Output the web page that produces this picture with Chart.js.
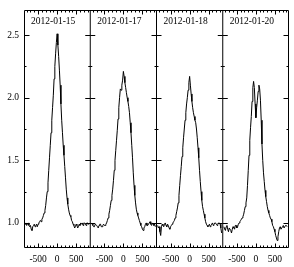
<!DOCTYPE html>
<html>
<head>
<meta charset="utf-8">
<script src="https://cdn.jsdelivr.net/npm/chart.js@4.4.1/dist/chart.umd.min.js"></script>
<style>
html,body{margin:0;padding:0;background:#fff;}
canvas{display:block;}
</style>
</head>
<body>
<canvas id="c" width="294" height="267" style="width:294px;height:267px"></canvas>
<script>
// ---- data ----
const dates = ['2012-01-15', '2012-01-17', '2012-01-18', '2012-01-20'];
const velocity = [
  -840,-820,-800,-780,-760,-740,-720,-700,-680,-660,
  -640,-620,-600,-580,-560,-540,-520,-500,-480,-460,
  -440,-420,-400,-380,-360,-340,-320,-300,-280,-260,
  -240,-220,-200,-180,-160,-140,-120,-100,-80,-60,
  -40,-20,0,20,40,60,80,100,120,140,
  160,180,200,220,240,260,280,300,320,340,
  360,380,400,420,440,460,480,500,520,540,
  560,580,600,620,640,660,680,700,720,740,
  760,780,800,820,840];
const flux0115 = [
  0.99,1.00,0.98,0.99,1.00,0.98,0.97,0.98,0.95,0.94,
  0.97,0.98,0.99,0.97,0.98,0.99,0.97,0.99,1.00,1.01,
  1.02,1.01,1.03,1.04,1.06,1.08,1.10,1.14,1.20,1.25,
  1.32,1.42,1.52,1.62,1.72,1.82,1.92,2.02,2.15,2.25,
  2.35,2.44,2.51,2.42,2.33,2.22,2.10,1.95,1.82,1.72,
  1.62,1.54,1.45,1.36,1.27,1.20,1.15,1.11,1.08,1.06,
  1.05,1.02,1.01,0.99,0.98,0.96,0.97,0.99,0.98,0.96,
  0.97,0.99,0.98,1.00,0.99,1.00,0.98,1.00,1.00,0.99,
  0.98,1.00,1.00,0.99,0.99];
const flux0117 = [
  1.00,0.99,0.98,0.97,0.97,0.99,0.99,0.98,0.97,0.96,
  0.98,0.99,0.99,0.97,0.97,0.98,0.99,0.98,0.98,0.99,
  1.00,1.02,1.04,1.07,1.10,1.14,1.18,1.22,1.27,1.34,
  1.42,1.50,1.58,1.66,1.74,1.83,1.92,2.00,2.07,2.06,
  2.10,2.14,2.21,2.17,2.12,2.08,2.04,2.00,1.97,1.93,
  1.88,1.80,1.72,1.62,1.52,1.40,1.30,1.22,1.16,1.11,
  1.08,1.06,1.04,1.02,1.00,0.98,0.97,0.95,0.94,0.96,
  0.97,0.99,1.00,0.98,0.98,0.99,1.00,1.01,0.99,0.98,
  1.00,0.99,0.98,0.99,0.97];
const flux0118 = [
  0.98,0.96,0.97,0.93,0.90,0.97,0.99,0.98,0.97,0.99,
  1.00,0.98,0.97,0.99,0.98,0.96,0.95,0.97,0.98,0.99,
  1.00,1.01,1.02,1.04,1.06,1.09,1.12,1.16,1.22,1.30,
  1.38,1.45,1.53,1.60,1.68,1.75,1.82,1.88,1.95,2.00,
  2.06,2.12,2.17,2.10,2.03,1.97,1.92,1.88,1.85,1.82,
  1.80,1.75,1.68,1.60,1.52,1.42,1.33,1.25,1.18,1.13,
  1.10,1.07,1.04,1.01,0.99,0.98,0.97,0.98,0.99,0.97,
  0.98,0.99,1.00,0.98,0.99,1.00,1.00,0.99,0.98,0.99,
  1.00,1.00,0.99,0.96,0.92];
const flux0120 = [
  0.97,0.95,0.94,0.97,0.98,0.95,0.93,0.96,0.96,0.94,
  0.92,0.95,0.97,0.96,0.95,0.98,0.98,0.96,0.97,0.99,
  1.00,1.01,1.02,1.03,1.04,1.05,1.07,1.10,1.13,1.16,
  1.20,1.30,1.42,1.54,1.66,1.76,1.85,1.97,2.08,2.13,
  2.08,1.95,1.84,1.92,1.98,2.05,2.10,2.07,1.98,1.82,
  1.63,1.50,1.40,1.33,1.26,1.21,1.17,1.13,1.10,1.08,
  1.06,1.04,1.03,1.01,0.98,0.97,0.95,0.93,0.90,0.88,
  0.86,0.89,0.93,0.96,0.97,0.95,0.95,0.97,0.98,0.96,
  0.96,0.98,0.98,0.97,0.97];
const series = [flux0115, flux0117, flux0118, flux0120];

const yTickValues = [1.0, 1.5, 2.0, 2.5];
const yTickLabels = ['1.0', '1.5', '2.0', '2.5'];
const yMinorValues = [1.25, 1.75, 2.25];
const xTickValues = [-500, 0, 500];
const xTickLabels = ['-500', '0', '500'];
const xMinorValues = [-800,-700,-600,-400,-300,-200,-100,100,200,300,400,600,700,800];

// ---- layout constants ----
const HALF = 870;            // half-width of one panel in km/s
const PANEL = 2 * HALF;      // panel offset on the shared axis
const FONT = '9.5px "Liberation Serif", "DejaVu Serif", serif';

const datasets = series.map((vals, k) => ({
  label: dates[k],
  data: velocity.map((v, i) => ({ x: v + k * PANEL, y: vals[i] })),
  borderColor: '#000',
  borderWidth: 1,
  pointRadius: 0,
  tension: 0,
  fill: false
}));

const panelPlugin = {
  id: 'panels',
  afterDatasetsDraw(chart) {
    const { ctx, chartArea: a, scales: { x, y } } = chart;
    ctx.save();
    ctx.strokeStyle = '#000';
    ctx.lineWidth = 1;
    const L = a.left + 0.5, R = a.right - 0.5, T = a.top + 0.5, B = a.bottom - 0.5;
    ctx.beginPath();
    ctx.moveTo(L, T); ctx.lineTo(R, T); ctx.lineTo(R, B); ctx.lineTo(L, B); ctx.closePath();
    ctx.stroke();
    const verticals = [L];
    for (let k = 1; k < dates.length; k++) {
      const px = x.getPixelForValue(-HALF + k * PANEL);
      verticals.push(px);
      ctx.beginPath(); ctx.moveTo(px, a.top); ctx.lineTo(px, a.bottom); ctx.stroke();
    }
    verticals.push(R);
    const yt = (vals, len) => {
      vals.forEach(v => {
        const py = Math.round(y.getPixelForValue(v)) + 0.5;
        verticals.forEach((vx, i) => {
          ctx.beginPath();
          if (i > 0) { ctx.moveTo(vx, py); ctx.lineTo(vx - len, py); }
          if (i < verticals.length - 1) { ctx.moveTo(vx, py); ctx.lineTo(vx + len, py); }
          ctx.stroke();
        });
      });
    };
    yt(yTickValues, 5);
    yt(yMinorValues, 2);
    const xt = (vals, len) => {
      for (let k = 0; k < dates.length; k++) {
        vals.forEach(v => {
          const px = Math.round(x.getPixelForValue(v + k * PANEL)) + 0.5;
          ctx.beginPath();
          ctx.moveTo(px, B); ctx.lineTo(px, B - len);
          ctx.moveTo(px, T); ctx.lineTo(px, T + len);
          ctx.stroke();
        });
      }
    };
    xt(xTickValues, 4);
    xt(xMinorValues, 2);
    ctx.fillStyle = '#000';
    ctx.font = FONT;
    ctx.textAlign = 'right';
    ctx.textBaseline = 'middle';
    yTickValues.forEach((v, i) => ctx.fillText(yTickLabels[i], a.left - 5, y.getPixelForValue(v)));
    ctx.textAlign = 'center';
    for (let k = 0; k < dates.length; k++) {
      xTickValues.forEach((v, i) => ctx.fillText(xTickLabels[i], x.getPixelForValue(v + k * PANEL), a.bottom + 11));
    }
    ctx.textAlign = 'left';
    for (let k = 0; k < dates.length; k++) {
      const px = x.getPixelForValue(-HALF + k * PANEL);
      ctx.fillText(dates[k], px + 7, a.top + 11);
    }
    ctx.restore();
  }
};

new Chart(document.getElementById('c'), {
  type: 'line',
  data: { datasets },
  options: {
    responsive: false,
    animation: false,
    devicePixelRatio: 1,
    layout: { padding: { left: 24, right: 5, top: 10, bottom: 19 } },
    plugins: { legend: { display: false }, tooltip: { enabled: false } },
    scales: {
      x: { type: 'linear', min: -HALF, max: -HALF + dates.length * PANEL, display: false },
      y: { type: 'linear', min: 0.8, max: 2.7, display: false }
    }
  },
  plugins: [panelPlugin]
});
</script>
</body>
</html>
